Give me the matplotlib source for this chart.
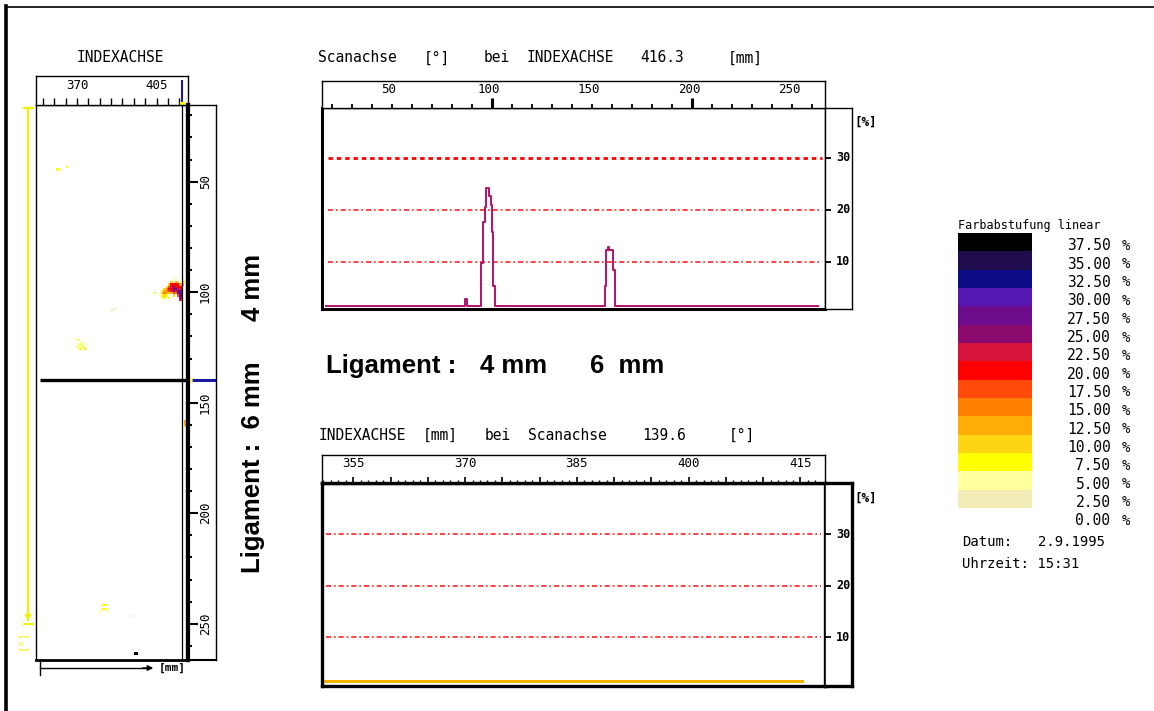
import numpy as np
import matplotlib
matplotlib.use('Agg')
import matplotlib.pyplot as plt
from matplotlib.colors import ListedColormap, BoundaryNorm
import matplotlib.transforms as mtrans

W, H, DPI = 1154, 711, 100

# ------------------------------------------------------------------ data
# colour scale (values in %, band lower bounds) and legend labels
band_bounds = [2.5, 5.0, 7.5, 10.0, 12.5, 15.0, 17.5, 20.0, 22.5, 25.0,
               27.5, 30.0, 32.5, 35.0, 37.5, 40.0]
band_colors = ['#f2edb6', '#ffff9c', '#ffff00', '#ffd412', '#ffac08',
               '#ff8000', '#ff4a0a', '#ff0000', '#d6143c', '#8c0a6e',
               '#6c0c8c', '#5616b2', '#0c0c86', '#1e0c4c', '#000000']
legend_levels = [37.5, 35.0, 32.5, 30.0, 27.5, 25.0, 22.5, 20.0, 17.5,
                 15.0, 12.5, 10.0, 7.5, 5.0, 2.5, 0.0]

# cursor positions
cursor_index_mm = 416.3
cursor_scan_deg = 139.6

# C-scan map cells: index axis [mm], scan axis [deg], amplitude [%]
map_index_mm = [361.5, 362.5, 365.5,
                403.5, 404.5,
                407.5, 407.5, 407.5, 407.5,
                408.5, 408.5, 408.5, 408.5, 408.5,
                409.5, 409.5, 409.5, 409.5, 409.5,
                410.5, 410.5, 410.5, 410.5, 410.5, 410.5,
                411.5, 411.5, 411.5, 411.5, 411.5, 411.5,
                412.5, 412.5, 412.5, 412.5, 412.5, 412.5, 412.5,
                413.5, 413.5, 413.5, 413.5, 413.5, 413.5, 413.5,
                414.5, 414.5, 414.5, 414.5, 414.5, 414.5, 414.5,
                415.5, 415.5, 415.5, 415.5, 415.5, 415.5, 415.5, 415.5,
                416.5, 416.5, 416.5, 417.5,
                385.5, 386.5,
                370.5, 370.5, 371.5, 372.5, 373.5, 372.5, 374.5, 371.5,
                417.5, 417.5, 417.5,
                381.5, 382.5, 381.5, 382.5, 380.5, 383.5,
                394.5, 395.5, 396.5]
map_scan_deg = [44.5, 44.5, 43.5,
                100.5, 100.5,
                99.5, 100.5, 101.5, 102.5,
                98.5, 99.5, 100.5, 101.5, 102.5,
                97.5, 98.5, 99.5, 100.5, 101.5,
                96.5, 97.5, 98.5, 99.5, 100.5, 102.5,
                95.5, 96.5, 97.5, 98.5, 99.5, 100.5,
                94.5, 96.5, 97.5, 98.5, 99.5, 100.5, 101.5,
                93.5, 95.5, 96.5, 97.5, 98.5, 99.5, 100.5,
                95.5, 96.5, 97.5, 98.5, 99.5, 100.5, 101.5,
                96.5, 97.5, 98.5, 99.5, 100.5, 101.5, 102.5, 103.5,
                94.5, 95.5, 96.5, 95.5,
                108.5, 107.5,
                121.5, 124.5, 123.5, 124.5, 125.5, 122.5, 123.5, 125.5,
                158.5, 159.5, 160.5,
                241.5, 241.5, 243.5, 243.5, 244.5, 244.5,
                246.5, 263.5, 263.5]
map_value = [8, 6, 9,
             6, 4,
             9, 11, 9, 7,
             11, 14, 16, 11, 9,
             11, 16, 17, 14, 9,
             11, 18, 21, 19, 11, 8,
             11, 21, 24, 21, 24, 14,
             6, 21, 26, 29, 26, 18, 11,
             6, 14, 21, 24, 28, 24, 16,
             11, 21, 21, 24, 27, 29, 18,
             14, 21, 24, 28, 29, 29, 27, 24,
             9, 11, 14, 9,
             4, 4,
             9, 9, 8, 9, 9, 6, 6, 8,
             13, 14, 12,
             8, 8, 9, 9, 6, 6,
             4, 39, 39]

# profile along scan axis at index 416.3 mm (step trace)
scan_edges = [17.0, 86.5, 87.5, 94.7, 95.3, 96.5, 97.0, 98.7, 99.3, 99.8,
              100.7, 101.5, 156.3, 157.2, 158.0, 158.6, 160.5, 161.5, 263.0]
scan_values = [1.6, 2.9, 1.6, 9.8, 17.6, 20.6, 24.2, 22.6, 21.0, 15.8,
               5.3, 1.6, 5.3, 12.3, 12.9, 12.3, 8.5, 1.6, 1.6]

# profile along index axis at scan 139.6 deg
index_pos = [351.0, 415.2]
index_values = [1.5, 1.5]

grid_levels = [10, 20, 30]
scan_labels = [50, 100, 150, 200, 250]
index_labels = [355, 370, 385, 400, 415]
map_index_labels = [370, 405]
map_scan_labels = [50, 100, 150, 200, 250]

# ------------------------------------------------------------------ figure
MONO = 'DejaVu Sans Mono'
BOLD = 'Liberation Sans'
fig = plt.figure(figsize=(W / DPI, H / DPI), dpi=DPI)
fig.patch.set_facecolor('white')


def box(x0, y0, x1, y1):
    return fig.add_axes([x0 / W, 1 - y1 / H, (x1 - x0) / W, (y1 - y0) / H])


def spines(ax, lw=1.0, **kw):
    for s in ['left', 'right', 'top', 'bottom']:
        ax.spines[s].set_linewidth(kw.get(s, lw))
        ax.spines[s].set_color('black')


def no_ticks(ax):
    ax.set_xticks([])
    ax.set_yticks([])


cmap = ListedColormap(band_colors)
norm = BoundaryNorm(band_bounds, cmap.N)

# ---------------- C-scan map
MAP_X = (352.0, 418.8)
MAP_Y = (266.4, 15.3)
ax_map = box(36, 105, 188, 660)
ax_map.set_xlim(*MAP_X)
ax_map.set_ylim(*MAP_Y)
no_ticks(ax_map)
spines(ax_map, 1.0, right=3.0, bottom=2.0)
mm_edges = np.arange(351.0, 420.0, 1.0)
deg_edges = np.arange(15.0, 268.0, 1.0)
grid = np.full((len(deg_edges) - 1, len(mm_edges) - 1), np.nan)
ix = np.floor(np.array(map_index_mm) - mm_edges[0]).astype(int)
iy = np.floor(np.array(map_scan_deg) - deg_edges[0]).astype(int)
grid[iy, ix] = map_value
ax_map.pcolormesh(mm_edges, deg_edges, np.ma.masked_invalid(grid),
                  cmap=cmap, norm=norm, shading='flat')
ax_map.axvline(cursor_index_mm, color='black', lw=0.9)
ax_map.hlines(cursor_scan_deg, 353.8, MAP_X[1], color='black', lw=2.4,
              clip_on=False)

# map top tick box
ax_mt = box(36, 76, 188, 105)
ax_mt.set_xlim(*MAP_X)
ax_mt.set_ylim(0, 1)
ax_mt.set_xticks(np.arange(355, 416, 5))
ax_mt.set_yticks([])
ax_mt.tick_params(axis='x', direction='in', length=5, width=1,
                  labelbottom=False)
spines(ax_mt, 1.0)
for v in map_index_labels:
    ax_mt.text(v, 0.66, str(v), ha='center', va='center', family=MONO,
               fontsize=9)
ax_mt.vlines(cursor_index_mm, 0.0, 0.86, color='#1a1a9c', lw=1.5)
ax_mt.plot([cursor_index_mm], [0.05], 's', color='#ffff00', ms=2.5)

# map right strip
ax_ms = box(188, 105, 216, 660)
ax_ms.set_ylim(*MAP_Y)
ax_ms.set_xlim(0, 1)
ax_ms.set_xticks([])
ax_ms.set_yticks(map_scan_labels)
ax_ms.set_yticks(np.arange(20, 261, 10), minor=True)
ax_ms.tick_params(axis='y', which='major', direction='in', length=7,
                  width=1.5, labelleft=False)
ax_ms.tick_params(axis='y', which='minor', direction='in', length=3,
                  width=1.5)
spines(ax_ms, 1.0, left=3.0, bottom=1.5)
for v in map_scan_labels:
    ax_ms.text(0.62, v, str(v), rotation=90, ha='center', va='center',
               family=MONO, fontsize=9)
ax_ms.hlines(cursor_scan_deg, 0.13, 1.0, color='#1a1a9c', lw=2.2)
ax_ms.plot([0.02], [cursor_scan_deg], 's', color='#ffff60', ms=3,
           clip_on=False)

# ---------------- top chart: scan axis profile
SC_X = (15.0, 266.5)
SC_Y = (0.96, 39.6)
ax_a = box(322, 108, 825, 309)
ax_a.set_xlim(*SC_X)
ax_a.set_ylim(*SC_Y)
no_ticks(ax_a)
spines(ax_a, 1.0, left=2.2, bottom=2.2)
gx0, gx1 = SC_X[0] + 3.0, SC_X[1] - 1.5
for lev in grid_levels:
    if lev == 30:
        ax_a.hlines(lev, gx0, gx1, color='#ff0000', lw=2.0,
                    linestyles=(0, (1.6, 1.4)))
    else:
        ax_a.hlines(lev, gx0, gx1, color='#ff2020', lw=1.2,
                    linestyles=(0, (3.0, 1.8, 1.0, 1.8)))
ax_a.plot(scan_edges, scan_values, drawstyle='steps-post', color='#b4126e',
          lw=1.4)

ax_at = box(322, 81, 825, 108)
ax_at.set_xlim(*SC_X)
ax_at.set_ylim(0, 1)
ax_at.set_yticks([])
ax_at.set_xticks([100, 200])
ax_at.set_xticks(np.arange(20, 261, 10), minor=True)
ax_at.tick_params(axis='x', which='major', direction='in', length=7.5,
                  width=2.2, labelbottom=False)
ax_at.tick_params(axis='x', which='minor', direction='in', length=3.2,
                  width=1.3)
spines(ax_at, 1.0)
for v in scan_labels:
    ax_at.text(v - 1.5, 0.68, str(v), ha='center', va='center', family=MONO,
               fontsize=9)

ax_as = box(825, 108, 852, 309)
ax_as.set_ylim(*SC_Y)
ax_as.set_xlim(0, 1)
ax_as.set_xticks([])
ax_as.set_yticks(grid_levels)
ax_as.tick_params(axis='y', direction='in', length=4, width=1.3,
                  labelleft=False)
spines(ax_as, 1.0)
for v in grid_levels:
    ax_as.text(0.68, v, str(v), ha='center', va='center', family=MONO,
               fontsize=8.5, fontweight='bold')

# ---------------- bottom chart: index axis profile
IX_X = (350.8, 418.3)
IX_Y = (0.5, 39.9)
ax_b = box(322, 483, 825, 686)
ax_b.set_xlim(*IX_X)
ax_b.set_ylim(*IX_Y)
no_ticks(ax_b)
spines(ax_b, 2.4)
bx0, bx1 = IX_X[0] + 0.6, IX_X[1] - 0.6
for lev in grid_levels:
    ax_b.hlines(lev, bx0, bx1, color='#ff2020', lw=1.2,
                linestyles=(0, (3.0, 1.8, 1.0, 1.8)))
ax_b.plot(index_pos, index_values, color='#f5b400', lw=2.2)

ax_bt = box(322, 455, 825, 483)
ax_bt.set_xlim(*IX_X)
ax_bt.set_ylim(0, 1)
ax_bt.set_yticks([])
ax_bt.set_xticks(np.arange(355, 418, 5))
ax_bt.set_xticks(np.arange(351, 418, 1), minor=True)
ax_bt.tick_params(axis='x', which='major', direction='in', length=4.5,
                  width=1.2, labelbottom=False)
ax_bt.tick_params(axis='x', which='minor', direction='in', length=2.2,
                  width=1.0)
spines(ax_bt, 1.0, bottom=2.4)
for v in index_labels:
    ax_bt.text(v, 0.7, str(v), ha='center', va='center', family=MONO,
               fontsize=9)

ax_bs = box(825, 483, 852, 686)
ax_bs.set_ylim(*IX_Y)
ax_bs.set_xlim(0, 1)
ax_bs.set_xticks([])
ax_bs.set_yticks(grid_levels)
ax_bs.tick_params(axis='y', direction='in', length=4, width=1.3,
                  labelleft=False)
spines(ax_bs, 2.4, left=1.2)
for v in grid_levels:
    ax_bs.text(0.68, v, str(v), ha='center', va='center', family=MONO,
               fontsize=8.5, fontweight='bold')

# ---------------- colour legend
ax_leg = box(958, 233, 1032, 508)
ax_leg.set_xlim(0, 1)
ax_leg.set_ylim(band_bounds[0], band_bounds[-1])
mids = np.array([(a + b) / 2 for a, b in zip(band_bounds[:-1], band_bounds[1:])])
ax_leg.pcolormesh([0, 1], band_bounds, mids[:, None], cmap=cmap, norm=norm)
no_ticks(ax_leg)
for s in ax_leg.spines.values():
    s.set_visible(False)
tr = mtrans.blended_transform_factory(ax_leg.transAxes, ax_leg.transData)
for lev in legend_levels:
    ax_leg.text(2.06, lev + 0.75, f"{lev:.2f}", transform=tr, ha='right',
                va='center', family=MONO, fontsize=10.5, clip_on=False)
    ax_leg.text(2.27, lev + 0.75, "%", transform=tr, ha='center',
                va='center', family=MONO, fontsize=10, clip_on=False)

# ---------------- overlay: frame, titles, annotations
ov = fig.add_axes([0, 0, 1, 1], zorder=10)
ov.set_xlim(0, W)
ov.set_ylim(H, 0)
ov.axis('off')
ov.patch.set_visible(False)

ov.plot([6, 6], [6, H], color='black', lw=2.6, clip_on=False)
ov.plot([6, W], [6.5, 6.5], color='black', lw=1.2, clip_on=False)

t_kw = dict(family=MONO, fontsize=10.5, va='center', ha='left')
ov.text(120, 57, 'INDEXACHSE', family=MONO, fontsize=10.5, va='center',
        ha='center')
for x, s in [(318, 'Scanachse'), (424, '[°]'), (484, 'bei'),
             (527, 'INDEXACHSE'), (640, '416.3'), (728, '[mm]')]:
    ov.text(x, 58, s, **t_kw)
for x, s in [(319, 'INDEXACHSE'), (423, '[mm]'), (485, 'bei'),
             (528, 'Scanachse'), (642, '139.6'), (729, '[°]')]:
    ov.text(x, 435, s, **t_kw)
ov.text(866, 122, '[%]', family=MONO, fontsize=9, fontweight='bold',
        ha='center', va='center')
ov.text(866, 498, '[%]', family=MONO, fontsize=9, fontweight='bold',
        ha='center', va='center')

b_kw = dict(family=BOLD, fontweight='bold', fontsize=18.5, va='center')
ov.text(326, 366, 'Ligament :', ha='left', **b_kw)
ov.text(480, 366, '4 mm', ha='left', **b_kw)
ov.text(590, 366, '6  mm', ha='left', **b_kw)
ov.text(253, 287, '4 mm', rotation=90, ha='center', **b_kw)
ov.text(253, 467, 'Ligament :  6 mm', rotation=90, ha='center', **b_kw)

ov.text(958, 225, 'Farbabstufung linear', family=MONO, fontsize=8.5,
        ha='left', va='center')
ov.text(962, 542, 'Datum:', family=MONO, fontsize=10, ha='left', va='center')
ov.text(1038, 542, '2.9.1995', family=MONO, fontsize=10, ha='left',
        va='center')
ov.text(962, 564, 'Uhrzeit: 15:31', family=MONO, fontsize=10, ha='left',
        va='center')

YEL = '#f2f000'
ov.plot([28, 28], [108, 620], color=YEL, lw=1.6)
ov.plot([24, 33], [108, 108], color=YEL, lw=1.6)
ov.annotate('', xy=(28, 624), xytext=(28, 600),
            arrowprops=dict(arrowstyle='-|>', color=YEL, lw=1.4,
                            mutation_scale=8))
ov.plot([24, 33], [624, 624], color=YEL, lw=1.4)
ov.text(22, 640, '[°]', rotation=90, color=YEL, family=MONO, fontsize=8,
        ha='center', va='center')

ov.plot([40, 150], [668, 668], color='black', lw=1.0)
ov.plot([40, 40], [662, 675], color='black', lw=1.0)
ov.annotate('', xy=(156, 668), xytext=(140, 668),
            arrowprops=dict(arrowstyle='-|>', color='black', lw=1.0,
                            mutation_scale=8))
ov.text(172, 668, '[mm]', family=MONO, fontsize=8, fontweight='bold',
        ha='center', va='center')

fig.savefig('out.png', dpi=DPI, facecolor='white')
